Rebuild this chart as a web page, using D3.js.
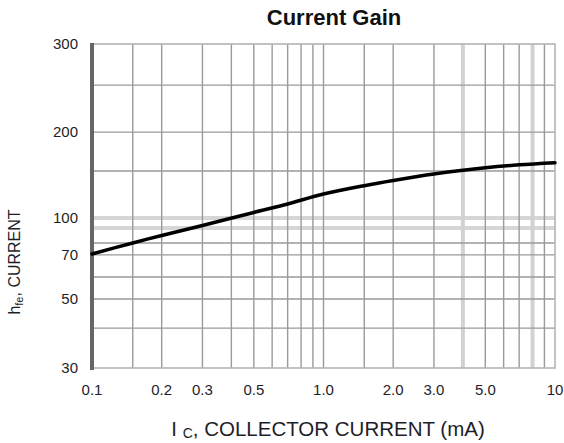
<!DOCTYPE html>
<html>
<head>
<meta charset="utf-8">
<script src="https://cdn.jsdelivr.net/npm/d3@7"></script>
<style>
  html, body { margin: 0; padding: 0; background: #fff; }
  svg { display: block; font-family: "Liberation Sans", Arial, sans-serif; }
</style>
</head>
<body>
<svg id="chart" width="564" height="443"></svg>
<script>
// Collector current (mA) and small-signal current gain h_fe
const currentMA = [0.1, 0.15, 0.2, 0.3, 0.5, 0.7, 1.0, 1.5, 2, 3, 5, 7, 10];
const gainHfe   = [70.8, 80, 85, 92.5, 105.9, 114.9, 125.5, 134.4, 139.9, 146.8, 154.1, 157.9, 160.6];

// Axis ticks and grid values
const xTickLabels = ["0.1", "0.2", "0.3", "0.5", "1.0", "2.0", "3.0", "5.0", "10"];
const xTickValues = [0.1, 0.2, 0.3, 0.5, 1, 2, 3, 5, 10];
const xGridValues = [0.15, 0.2, 0.3, 0.4, 0.5, 0.6, 0.7, 0.8, 0.9, 1, 1.5, 2, 3, 5, 6, 7, 9];
const xGridLight  = [4, 8];
const yTickValues = [30, 50, 70, 100, 200, 300];
const yGridValues = [40, 50, 60, 70, 80, 150, 200, 250];
const yGridLight  = [90, 100];

const svg = d3.select("#chart");
const plotLeft = 92, plotRight = 555, plotTop = 44, plotBottom = 368;
const plotH = plotBottom - plotTop;

const x = d3.scaleLog().domain([0.1, 10]).range([plotLeft, plotRight]);

// Graph-paper style gain axis: piecewise between printed grid rows
const y = d3.scaleLinear()
  .domain([30, 40, 50, 60, 70, 80, 90, 100, 150, 200, 250, 300])
  .range([1, 0.877, 0.787, 0.719, 0.651, 0.614, 0.568, 0.537, 0.392, 0.272, 0.127, 0].map(f => plotTop + f * plotH));

const grid = svg.append("g");

// light wide rules
grid.selectAll("line.yl").data(yGridLight).join("line")
  .attr("x1", plotLeft).attr("x2", plotRight)
  .attr("y1", d => y(d)).attr("y2", d => y(d))
  .attr("stroke", "#d6d6d6").attr("stroke-width", 4);
grid.selectAll("line.xl").data(xGridLight).join("line")
  .attr("y1", plotTop).attr("y2", plotBottom)
  .attr("x1", d => x(d)).attr("x2", d => x(d))
  .attr("stroke", "#d2d2d2").attr("stroke-width", 4);

// regular rules
grid.selectAll("line.yg").data(yGridValues).join("line")
  .attr("x1", plotLeft).attr("x2", plotRight)
  .attr("y1", d => y(d)).attr("y2", d => y(d))
  .attr("stroke", "#9a9a9a").attr("stroke-width", 1.4);
grid.selectAll("line.xg").data(xGridValues).join("line")
  .attr("y1", plotTop).attr("y2", plotBottom)
  .attr("x1", d => x(d)).attr("x2", d => x(d))
  .attr("stroke", "#9a9a9a").attr("stroke-width", 1.4);

// frame: light top/right/bottom, heavy left axis
grid.append("rect")
  .attr("x", plotLeft).attr("y", y(300))
  .attr("width", x(10) - plotLeft).attr("height", y(30) - y(300))
  .attr("fill", "none").attr("stroke", "#b4b4b4").attr("stroke-width", 1.6);
grid.append("line")
  .attr("x1", plotLeft).attr("x2", plotLeft)
  .attr("y1", y(300) - 1).attr("y2", y(30) + 2)
  .attr("stroke", "#666").attr("stroke-width", 4);

// gain curve
const line = d3.line()
  .x((d, i) => x(currentMA[i]))
  .y(d => y(d))
  .curve(d3.curveCatmullRom.alpha(0.5));
svg.append("path")
  .datum(gainHfe)
  .attr("d", line)
  .attr("fill", "none")
  .attr("stroke", "#000")
  .attr("stroke-width", 3.5)
  .attr("stroke-linejoin", "round")
  .attr("stroke-linecap", "round");

// tick labels
svg.append("g").selectAll("text").data(yTickValues).join("text")
  .attr("x", 78).attr("y", d => y(d)).attr("dy", "0.35em")
  .attr("text-anchor", "end")
  .attr("font-size", 15).attr("fill", "#1e1e28")
  .text(d => d);

svg.append("g").selectAll("text").data(xTickValues).join("text")
  .attr("x", d => x(d)).attr("y", 395)
  .attr("text-anchor", "middle")
  .attr("font-size", 15).attr("fill", "#1e1e28")
  .text((d, i) => xTickLabels[i]);

// title
svg.append("text")
  .attr("x", 334).attr("y", 25)
  .attr("text-anchor", "middle")
  .attr("font-size", 22).attr("font-weight", "bold").attr("fill", "#111")
  .text("Current Gain");

// x-axis title
const xt = svg.append("text")
  .attr("x", 328).attr("y", 436)
  .attr("text-anchor", "middle")
  .attr("font-size", 20.5).attr("fill", "#1e1e28");
xt.append("tspan").text("I ");
xt.append("tspan").attr("font-size", 14).attr("dy", 2).text("C");
xt.append("tspan").attr("dy", -2).text(", COLLECTOR CURRENT (mA)");

// y-axis title
const yt = svg.append("text")
  .attr("transform", "translate(20,262) rotate(-90)")
  .attr("text-anchor", "middle")
  .attr("font-size", 16).attr("fill", "#1e1e28");
yt.append("tspan").text("h");
yt.append("tspan").attr("font-size", 11).attr("dy", 3).text("fe");
yt.append("tspan").attr("dy", -3).text(", CURRENT");
</script>
</body>
</html>
